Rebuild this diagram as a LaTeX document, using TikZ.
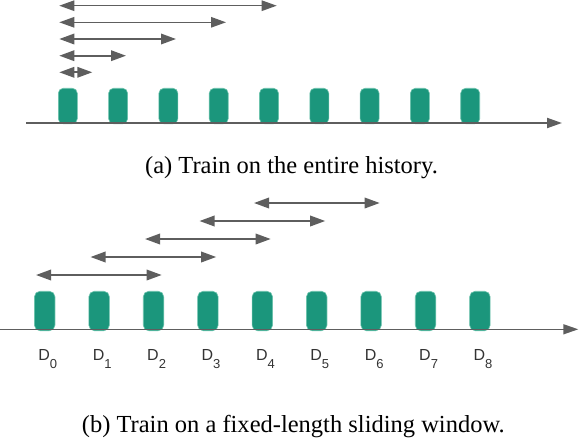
\documentclass[tikz,border=0pt]{standalone}
\usepackage{fontspec}
\setmainfont{Liberation Serif}
\setsansfont{Liberation Sans}
\usetikzlibrary{arrows.meta}
\definecolor{tealfill}{HTML}{1B967C}
\definecolor{tealedge}{HTML}{6CC3AC}
\definecolor{axisgray}{HTML}{5E5E5E}
\definecolor{labgray}{HTML}{333333}
\begin{document}
\begin{tikzpicture}[x=1pt,y=-1pt,
  blka/.style={rectangle, rounded corners=5pt, fill=tealfill, draw=tealedge, line width=0.6pt,
    minimum width=19pt, minimum height=35.5pt, inner sep=0pt},
  blkb/.style={rectangle, rounded corners=5.5pt, fill=tealfill, draw=tealedge, line width=0.6pt,
    minimum width=20.5pt, minimum height=39.5pt, inner sep=0pt},
  span/.style={axisgray, line width=1.8pt,
    {Triangle[length=15pt,width=10.5pt]}-{Triangle[length=15pt,width=10.5pt]}},
  spanthin/.style={span, line width=1.2pt},
  axisline/.style={axisgray, -{Triangle[length=15pt,width=10pt]}},
  lab/.style={font=\sffamily\fontsize{16}{16}\selectfont, text=labgray, inner sep=0pt, anchor=base west},
  captext/.style={font=\fontsize{24.5}{28}\selectfont, inner sep=0pt, anchor=base}
]
\useasboundingbox (0,0) rectangle (580,442);

% ---------- panel (a) ----------
\coordinate (axA0) at (26,123);
\coordinate (axA1) at (562,123);
\foreach \i in {0,...,8}
  \node[blka] (a\i) at ({67.8+50.3*\i},106) {};
\draw[axisline, line width=2pt] (axA0) -- (axA1);

\coordinate (aL1) at (59.3,5.7);   \coordinate (aR1) at (276.7,5.7);
\coordinate (aL2) at (59.3,22.3);  \coordinate (aR2) at (226,22.3);
\coordinate (aL3) at (59.3,39);    \coordinate (aR3) at (176,39);
\coordinate (aL4) at (59.3,55.7);  \coordinate (aR4) at (126,55.7);
\coordinate (aL5) at (59.3,72.3);  \coordinate (aR5) at (92.3,72.3);
\draw[spanthin] (aL1) -- (aR1);
\draw[spanthin] (aL2) -- (aR2);
\draw[span] (aL3) -- (aR3);
\draw[span] (aL4) -- (aR4);
\draw[span] (aL5) -- (aR5);

\node[captext] (capA) at (291.5,173.3) {(a) Train on the entire history.};

% ---------- panel (b) ----------
\coordinate (axB0) at (0,329.3);
\coordinate (axB1) at (578.3,329.3);
\foreach \i in {0,...,8}
  \node[blkb] (b\i) at ({44.7+54.4*\i},311) {};
\draw[axisline, line width=1.4pt] (axB0) -- (axB1);

\foreach \i/\y in {0/275,1/257,2/239,3/221,4/203}{
  \coordinate (bL\i) at ({36+54.5*\i},\y);
  \coordinate (bR\i) at ({161.7+54.5*\i},\y);
  \draw[span] (bL\i) -- (bR\i);
}

\foreach \i in {0,...,8}
  \node[lab] (d\i) at ({44.7+54.4*\i-6.5},360.7)
    {D\raisebox{-7.3pt}{\fontsize{13}{13}\selectfont \i}};

\node[captext] (capB) at (293.3,432.7) {(b) Train on a fixed-length sliding window.};
\end{tikzpicture}
\end{document}
